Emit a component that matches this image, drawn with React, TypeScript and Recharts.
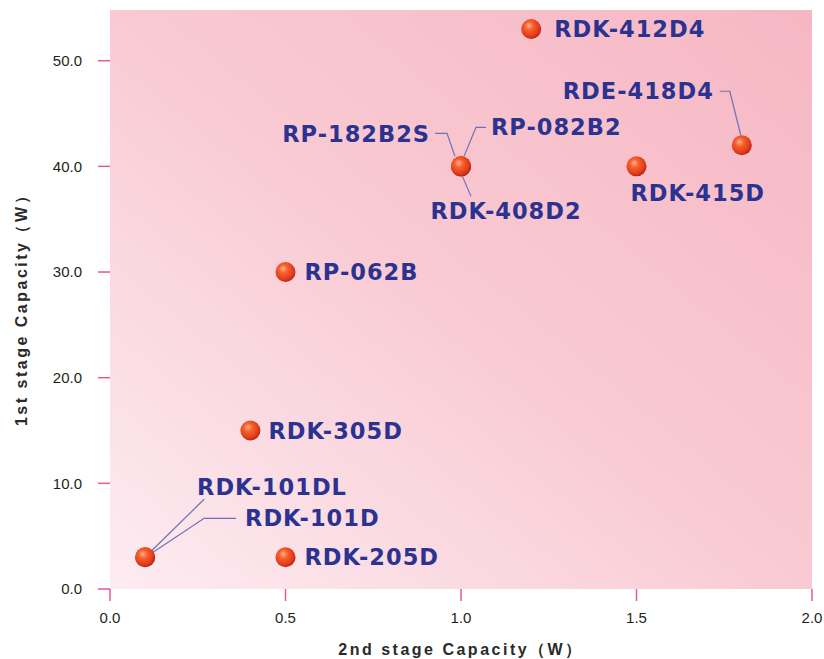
import React from "react";
import {
  ScatterChart,
  Scatter,
  XAxis,
  YAxis,
  ReferenceArea,
  Label,
} from "recharts";

const models = [
  "RDK-412D4",
  "RDE-418D4",
  "RP-182B2S",
  "RP-082B2",
  "RDK-408D2",
  "RDK-415D",
  "RP-062B",
  "RDK-305D",
  "RDK-101DL",
  "RDK-101D",
  "RDK-205D",
];
const secondStage = [1.2, 1.8, 1.0, 1.0, 1.0, 1.5, 0.5, 0.4, 0.1, 0.1, 0.5];
const firstStage = [53, 42, 40, 40, 40, 40, 30, 15, 3, 3, 3];

const xTicks = [0, 0.5, 1.0, 1.5, 2.0];
const yTicks = [0, 10, 20, 30, 40, 50];
const yMax = 54.8;

const data = models.map((name, i) => ({
  name,
  x: secondStage[i],
  y: firstStage[i],
}));

// label placement relative to the dot centre (dy = vertical centre of text)
type Layout = {
  dx: number;
  dy: number;
  anchor: "start" | "middle" | "end";
  leader?: number[][];
};
const labelLayout: Record<string, Layout> = {
  "RDK-412D4": { dx: 23, dy: 0, anchor: "start" },
  "RDE-418D4": { dx: -28, dy: -54, anchor: "end", leader: [[-22, -54], [-12, -54], [-1, -10]] },
  "RP-182B2S": { dx: -31, dy: -32, anchor: "end", leader: [[-26, -33], [-14, -33], [-6, -10]] },
  "RP-082B2": { dx: 30, dy: -39, anchor: "start", leader: [[25, -39], [15, -39], [3, -10]] },
  "RDK-408D2": { dx: 45, dy: 45, anchor: "middle", leader: [[1, 9], [10, 30]] },
  "RDK-415D": { dx: -6, dy: 27, anchor: "start" },
  "RP-062B": { dx: 19, dy: 0, anchor: "start" },
  "RDK-305D": { dx: 18, dy: 0, anchor: "start" },
  "RDK-101DL": { dx: 52, dy: -70, anchor: "start", leader: [[59, -58], [6, -6]] },
  "RDK-101D": { dx: 100, dy: -39, anchor: "start", leader: [[91, -39], [59, -39], [8, -5]] },
  "RDK-205D": { dx: 19, dy: 0, anchor: "start" },
};

const navy = "#2b3290";
const tickPink = "#e8559b";

const Ball = (props: any) => {
  const { cx, cy, payload } = props;
  const l = labelLayout[payload.name];
  return (
    <g>
      {l && l.leader && (
        <polyline
          points={l.leader.map((p) => `${cx + p[0]},${cy + p[1]}`).join(" ")}
          fill="none"
          stroke="#6f6fb8"
          strokeWidth={1.2}
        />
      )}
      <circle cx={cx} cy={cy} r={10} fill="url(#ballGrad)" />
      {l && (
        <text
          x={cx + l.dx}
          y={cy + l.dy + 8}
          textAnchor={l.anchor}
          fill={navy}
          fontFamily="DejaVu Sans, sans-serif"
          fontWeight="bold"
          fontSize={22.5}
          letterSpacing={1}
        >
          {payload.name}
        </text>
      )}
    </g>
  );
};

const Background = (props: any) => {
  const { x, y, width, height } = props;
  return (
    <g>
      <defs>
        <linearGradient id="bgGrad" x1="0" y1="1" x2="1" y2="0">
          <stop offset="0%" stopColor="#fdecf2" />
          <stop offset="50%" stopColor="#f9cad3" />
          <stop offset="100%" stopColor="#f6b7c3" />
        </linearGradient>
        <radialGradient id="ballGrad" cx="0.42" cy="0.4" r="0.6" fx="0.38" fy="0.32">
          <stop offset="0%" stopColor="#ffb08c" />
          <stop offset="35%" stopColor="#f6622d" />
          <stop offset="80%" stopColor="#e23b1b" />
          <stop offset="100%" stopColor="#b8261a" />
        </radialGradient>
      </defs>
      <rect x={x} y={y} width={width} height={height} fill="url(#bgGrad)" />
    </g>
  );
};

const tickStyle = {
  fill: "#231f20",
  fontFamily: "Liberation Sans, Arial, sans-serif",
  fontSize: 15,
};

const titleProps = {
  fill: "#2a2a2a",
  fontFamily: "Liberation Sans, Arial, sans-serif",
  fontWeight: "bold" as const,
  fontSize: 16,
  letterSpacing: 2.5,
};

export default function App() {
  return (
    <div style={{ position: "absolute", left: 0, top: 0, background: "#fff" }}>
      <ScatterChart
        width={824}
        height={659}
        margin={{ top: 10, right: 12, bottom: 30, left: 10 }}
      >
        <XAxis
          type="number"
          dataKey="x"
          domain={[0, 2]}
          ticks={xTicks}
          allowDataOverflow
          tickFormatter={(v: number) => v.toFixed(1)}
          axisLine={false}
          tickLine={{ stroke: tickPink, strokeWidth: 1.5 }}
          tickSize={12}
          tickMargin={11}
          tick={tickStyle}
          height={40}
        >
          <Label
            content={(p: any) => {
              const vb = p.viewBox;
              return (
                <text
                  x={vb.x + vb.width / 2}
                  y={vb.y + 66}
                  textAnchor="middle"
                  {...titleProps}
                >
                  2nd stage Capacity（W）
                </text>
              );
            }}
          />
        </XAxis>
        <YAxis
          type="number"
          dataKey="y"
          domain={[0, yMax]}
          ticks={yTicks}
          allowDataOverflow
          tickFormatter={(v: number) => v.toFixed(1)}
          axisLine={false}
          tickLine={{ stroke: tickPink, strokeWidth: 1.5 }}
          tickSize={12}
          tickMargin={16}
          tick={tickStyle}
          width={100}
        >
          <Label
            content={() => (
              <text
                x={27}
                y={306}
                transform="rotate(-90, 27, 306)"
                textAnchor="middle"
                {...titleProps}
              >
                1st stage Capacity（W）
              </text>
            )}
          />
        </YAxis>
        <ReferenceArea
          x1={0}
          x2={2}
          y1={0}
          y2={yMax}
          shape={(p: any) => <Background {...p} />}
        />
        <Scatter data={data} shape={Ball} isAnimationActive={false} />
      </ScatterChart>
    </div>
  );
}
